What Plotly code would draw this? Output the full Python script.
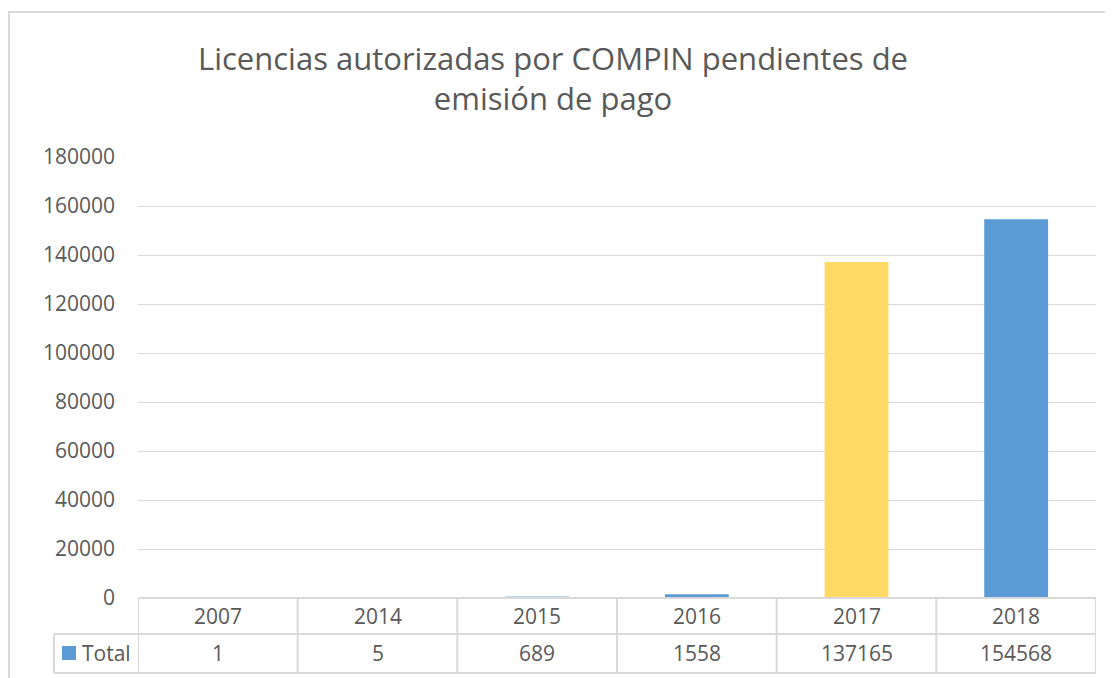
import plotly.graph_objects as go

# datos
years = ["2007", "2014", "2015", "2016", "2017", "2018"]
totals = [1, 5, 689, 1558, 137165, 154568]
bar_colors = ["#5B9BD5", "#5B9BD5", "#BDD7EE", "#5B9BD5", "#FFD966", "#5B9BD5"]
y_ticks = list(range(0, 180001, 20000))

OFF = 8  # page body margin
W, H = 1113 - OFF, 678 - OFF
L, R, T, B = 138 - OFF, 17, 157 - OFF, 80
pw, ph = W - L - R, H - T - B

def px_y(p):   # pixels below the plot bottom -> paper y
    return -p / ph

def px_x(p):   # page pixel x -> paper x
    return (p - OFF - L) / pw

grey = "#595959"
line = "#D9D9D9"
font = "Open Sans"
fs = 21

fig = go.Figure(go.Bar(
    x=list(range(len(years))), y=totals,
    marker=dict(color=bar_colors, line=dict(width=0)),
    width=0.4, showlegend=False,
))

shapes = []
annotations = []
row1, row2 = 36, 75
# lineas de la tabla
shapes.append(dict(type="line", xref="x", yref="paper", x0=-0.5, x1=len(years) - 0.5,
                   y0=0, y1=0, line=dict(color=line, width=2)))
for yy in (row1, row2):
    shapes.append(dict(type="line", xref="paper", yref="paper", x0=px_x(54), x1=1,
                       y0=px_y(yy), y1=px_y(yy), line=dict(color=line, width=2)))
for i in range(len(years) + 1):
    shapes.append(dict(type="line", xref="x", yref="paper", x0=i - 0.5, x1=i - 0.5,
                       y0=0, y1=px_y(row2), line=dict(color=line, width=2)))
shapes.append(dict(type="line", xref="paper", yref="paper", x0=px_x(54), x1=px_x(54),
                   y0=px_y(row1), y1=px_y(row2), line=dict(color=line, width=2)))
# clave de leyenda
shapes.append(dict(type="rect", xref="paper", yref="paper", x0=px_x(62), x1=px_x(76),
                   y0=px_y(48), y1=px_y(62), fillcolor="#5B9BD5", line=dict(width=0)))
# marco exterior
shapes.append(dict(type="rect", xref="paper", yref="paper", x0=px_x(9), x1=px_x(1130),
                   y0=px_y(120), y1=(598 - 12) / ph, line=dict(color=line, width=2),
                   fillcolor="rgba(0,0,0,0)", layer="below"))

for i, (yr, v) in enumerate(zip(years, totals)):
    annotations.append(dict(x=i, y=px_y(18), xref="x", yref="paper", text=yr,
                            yanchor="middle", showarrow=False,
                            font=dict(size=fs, color=grey, family=font)))
    annotations.append(dict(x=i, y=px_y(55), xref="x", yref="paper", text=str(v),
                            yanchor="middle", showarrow=False,
                            font=dict(size=fs, color=grey, family=font)))
annotations.append(dict(x=px_x(80), y=px_y(55), xref="paper", yref="paper", text="Total",
                        xanchor="left", yanchor="middle", showarrow=False,
                        font=dict(size=fs, color=grey, family=font)))

fig.update_layout(
    width=W, height=H,
    margin=dict(l=L, r=R, t=T, b=B),
    paper_bgcolor="white", plot_bgcolor="white",
    title=dict(text="Licencias autorizadas por COMPIN pendientes de<br>emisión de pago",
               x=px_x(553), xref="paper", xanchor="center", y=0.908, yanchor="top",
               font=dict(size=31, color=grey, family=font)),
    xaxis=dict(range=[-0.5, len(years) - 0.5], showticklabels=False, showgrid=False,
               zeroline=False, showline=False, fixedrange=True),
    yaxis=dict(range=[0, 180000], tickvals=y_ticks, ticktext=[str(t) for t in y_ticks],
               showgrid=True, gridcolor=line, gridwidth=1, zeroline=False,
               ticklabelstandoff=22, tickfont=dict(size=fs, color=grey, family=font)),
    shapes=shapes, annotations=annotations,
)

fig.write_html("out.html")
